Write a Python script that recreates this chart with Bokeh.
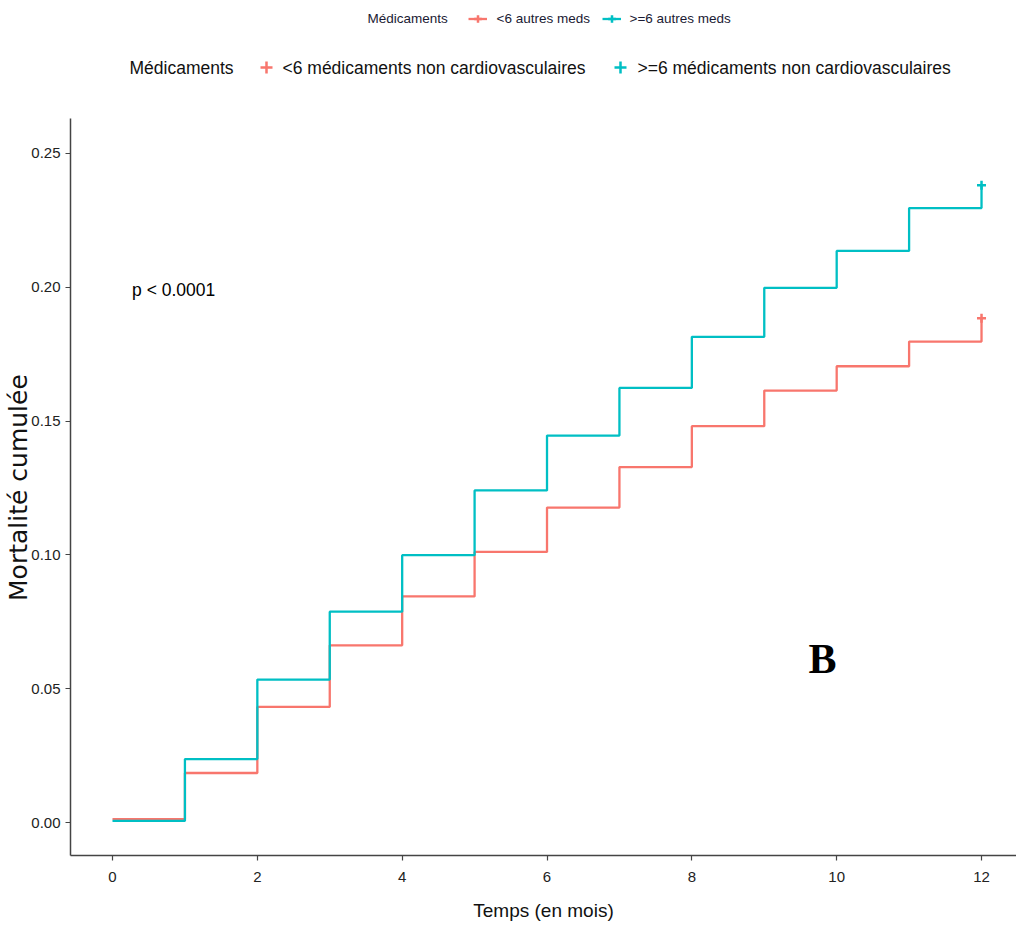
import math
from bokeh.plotting import figure
from bokeh.models import Range1d, FixedTicker, PrintfTickFormatter, Label, Legend, LegendItem
from bokeh.embed import file_html
from bokeh.resources import INLINE

# ---- data ----
months = [0, 1, 2, 3, 4, 5, 6, 7, 8, 9, 10, 11, 12]
mort_lt6 = [0.0013, 0.0185, 0.0432, 0.0662, 0.0845, 0.1011, 0.1177, 0.1328,
            0.1481, 0.1614, 0.1705, 0.1797, 0.1884]
mort_ge6 = [0.0006, 0.0237, 0.0534, 0.0788, 0.0999, 0.1241, 0.1446, 0.1624,
            0.1815, 0.1998, 0.2136, 0.2296, 0.2381]
x_ticks = [0, 2, 4, 6, 8, 10, 12]
y_ticks = [0.00, 0.05, 0.10, 0.15, 0.20, 0.25]
legend_title = "Médicaments"
group_labels = ["<6 médicaments non cardiovasculaires", ">=6 médicaments non cardiovasculaires"]
group_labels_short = ["<6 autres meds", ">=6 autres meds"]
x_title = "Temps (en mois)"
y_title = "Mortalité cumulée"
pval_text = "p < 0.0001"
panel_tag = "B"
colors = ["#F8766D", "#00BFC4"]

SANS = "Liberation Sans"
Y_LO, Y_AXIS_TOP, Y_HI = -0.01233, 0.2631, 0.30717

p = figure(width=1016, height=929, output_backend="svg", toolbar_location=None,
           x_range=Range1d(-0.58, 12.483), y_range=Range1d(Y_LO, Y_HI),
           min_border_left=70, min_border_right=0, min_border_top=0, min_border_bottom=74)
p.outline_line_color = None
p.xgrid.visible = False
p.ygrid.visible = False
p.background_fill_color = "white"

for ax in (p.xaxis[0], p.yaxis[0]):
    ax.axis_line_color = "#444444"
    ax.axis_line_width = 1.5
    ax.major_tick_line_color = "#444444"
    ax.major_tick_line_width = 1.2
    ax.major_tick_out = 5
    ax.major_tick_in = 0
    ax.minor_tick_line_color = None
    ax.major_label_text_font = SANS
    ax.major_label_text_font_size = "15px"
    ax.major_label_text_color = "#222222"
    ax.axis_label_text_font_style = "normal"
    ax.axis_label_text_color = "#111111"
p.xaxis.ticker = FixedTicker(ticks=x_ticks)
p.yaxis.ticker = FixedTicker(ticks=y_ticks)
p.yaxis.formatter = PrintfTickFormatter(format="%.2f")
p.yaxis.bounds = (Y_LO, Y_AXIS_TOP)
p.xaxis.major_label_standoff = 11
p.yaxis.major_label_standoff = 5

p.xaxis.axis_label = x_title
p.xaxis.axis_label_text_font = SANS
p.xaxis.axis_label_text_font_size = "19px"
p.xaxis.axis_label_standoff = 15
# the frame reaches the top of the canvas (the header lives inside it), so the
# title is padded with no-break spaces to centre it on the drawn axis
p.yaxis.axis_label = y_title + "\u00a0" * 15
p.yaxis.axis_label_text_font = "DejaVu Sans"
p.yaxis.axis_label_text_font_size = "25px"
p.yaxis.axis_label_standoff = -5

# curves
r_red = p.step(months, mort_lt6, mode="after", line_color=colors[0], line_width=2.3)
r_cyan = p.step(months, mort_ge6, mode="after", line_color=colors[1], line_width=2.3)
m_red = p.scatter([months[-1]], [mort_lt6[-1]], marker="cross", size=9,
                  line_color=colors[0], line_width=2.5)
m_cyan = p.scatter([months[-1]], [mort_ge6[-1]], marker="cross", size=9,
                   line_color=colors[1], line_width=2.5)

# frame-relative screen coords: sx = page_x - 70, sy = 855 - page_y
def key_legend(renderers, loc, box):
    lg = Legend(items=[LegendItem(label=" ", renderers=renderers)], location=loc,
                orientation="horizontal", padding=0, margin=0, spacing=0,
                label_standoff=0, glyph_width=box, glyph_height=box,
                label_width=1, label_height=1, label_text_font_size="1px",
                label_text_alpha=0, border_line_color=None,
                background_fill_alpha=0)
    p.add_layout(lg, "center")

# main legend keys (cross only)
key_legend([m_red], (196 - 15, 788 - 15), 30)
key_legend([m_cyan], (550 - 15, 788 - 15), 30)
# small (cut) legend keys: line + cross
key_legend([r_red, m_red], (407 - 9.5, 837 - 9.5), 19)
key_legend([r_cyan, m_cyan], (541 - 9.5, 837 - 9.5), 19)

def lab(text, x, y, size, font=SANS, color="#111111", align="left", angle=0,
        style="normal", units="screen"):
    p.add_layout(Label(x=x, y=y, x_units=units, y_units=units, text=text,
                       text_font=font, text_font_size=size, text_color=color,
                       text_align=align, text_baseline="middle", angle=angle,
                       text_font_style=style))

# main legend
lab(legend_title, 59, 788, "17.5px")
lab(group_labels[0], 212, 788, "17.5px")
lab(group_labels[1], 567, 788, "17.5px")
# small (cut) legend at very top
lab(legend_title, 297, 837, "13.5px", color="#1a1a33")
lab(group_labels_short[0], 426, 837, "13.5px", color="#1a1a33")
lab(group_labels_short[1], 559, 837, "13.5px", color="#1a1a33")

# p-value (data coords) and panel tag
lab(pval_text, 0.27, 0.199, "17.5px", units="data", color="black")
lab(panel_tag, 752, 197, "42px", font="Liberation Serif", align="center",
    style="bold", color="black")

open("out.html", "w").write(file_html(p, INLINE))
